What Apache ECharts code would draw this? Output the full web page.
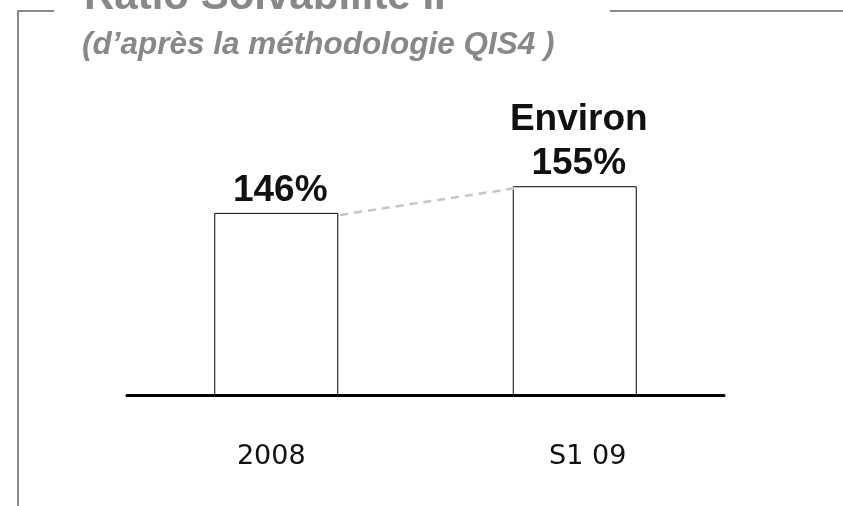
<!DOCTYPE html>
<html>
<head>
<meta charset="utf-8">
<script src="https://cdn.jsdelivr.net/npm/echarts@6/dist/echarts.min.js"></script>
<style>
  html, body { margin: 0; padding: 0; background: #fff; }
  #chart { width: 843px; height: 506px; }
</style>
</head>
<body>
<div id="chart"></div>
<script>
// chart data
const categories = ['2008', 'S1 09'];
const ratioValues = [146, 155];
const valueLabels = ['146%', 'Environ\n155%'];

const BAR_W = 124;
const sans = 'Arial, "Liberation Sans", sans-serif';

const chart = echarts.init(document.getElementById('chart'));

// dashed connector between the tops of consecutive bars
function renderConnector(params, api) {
  const i = api.value(0);
  if (i >= ratioValues.length - 1) return null;
  const p0 = api.coord([i, ratioValues[i]]);
  const p1 = api.coord([i + 1, ratioValues[i + 1]]);
  return {
    type: 'line',
    shape: {
      x1: p0[0] + BAR_W / 2 + 2, y1: p0[1] + 2,
      x2: p1[0] - BAR_W / 2 + 2, y2: p1[1] + 2
    },
    style: { stroke: '#c6c6c6', lineWidth: 2.5, lineDash: [8, 6] }
  };
}

const option = {
  backgroundColor: '#fff',
  animation: false,
  title: [
    {
      text: 'Ratio Solvabilité II',
      left: 79, top: -29,
      textStyle: { fontFamily: sans, fontSize: 42, fontWeight: 'bold', color: '#888888', lineHeight: 42 }
    },
    {
      text: '(d’après la méthodologie QIS4 )',
      left: 77, top: 25,
      textStyle: { fontFamily: sans, fontSize: 31.5, fontWeight: 'bold', fontStyle: 'italic', color: '#888888', lineHeight: 31 }
    }
  ],
  graphic: [
    {
      type: 'polyline',
      shape: { points: [[54, 11], [18, 11], [18, 506]] },
      style: { stroke: '#8a8a8a', lineWidth: 2, fill: null }
    },
    {
      type: 'line',
      shape: { x1: 610, y1: 11, x2: 843, y2: 11 },
      style: { stroke: '#8a8a8a', lineWidth: 2 }
    }
  ],
  grid: { left: 127, right: 119, top: 53, bottom: 111 },
  xAxis: {
    type: 'category',
    data: categories,
    axisLine: { show: true, lineStyle: { color: '#000', width: 3 } },
    axisTick: { show: false },
    z: 10,
    axisLabel: {
      margin: 48,
      formatter: (v) => v === '2008' ? '{a|' + v + '}' : '{b|' + v + '}',
      rich: {
        a: { fontFamily: '"DejaVu Sans", sans-serif', fontSize: 27, color: '#111', lineHeight: 27, padding: [0, 10, 0, 0] },
        b: { fontFamily: '"DejaVu Sans", sans-serif', fontSize: 27, color: '#111', lineHeight: 27, padding: [0, 0, 0, 26] }
      }
    }
  },
  yAxis: {
    type: 'value',
    min: 84.5,
    max: 200,
    show: false,
    splitLine: { show: false }
  },
  series: [
    {
      type: 'bar',
      data: ratioValues,
      barWidth: BAR_W,
      itemStyle: { color: '#ffffff', borderColor: '#000', borderWidth: 1 },
      label: {
        show: true,
        position: 'top',
        distance: 0,
        offset: [4, 0],
        formatter: (p) => valueLabels[p.dataIndex],
        fontFamily: sans,
        fontSize: 37,
        fontWeight: 'bold',
        color: '#111',
        lineHeight: 44
      }
    },
    {
      type: 'custom',
      renderItem: renderConnector,
      data: ratioValues.map((v, i) => [i, v]),
      z: 5,
      silent: true
    }
  ]
};

chart.setOption(option);
</script>
</body>
</html>
